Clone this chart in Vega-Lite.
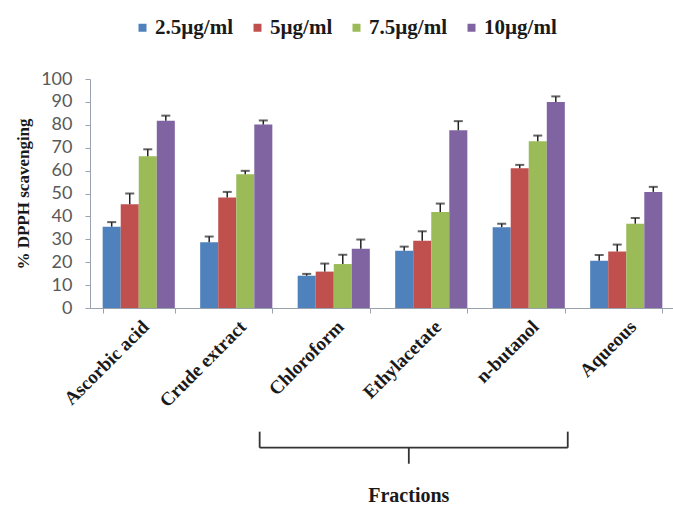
{
  "$schema": "https://vega.github.io/schema/vega-lite/v6.json",
  "width": 585,
  "height": 229,
  "padding": {"left": 14, "top": 17, "right": 0, "bottom": 5},
  "background": "white",
  "config": {"view": {"stroke": null}, "font": "Liberation Serif", "axisY": {"labelOverlap": false}},
  "datasets": {
    "bars": [
      {"cat": "Ascorbic acid", "conc": "2.5µg/ml", "value": 35.5, "upper": 37.5},
      {"cat": "Ascorbic acid", "conc": "5µg/ml", "value": 45.3, "upper": 50},
      {"cat": "Ascorbic acid", "conc": "7.5µg/ml", "value": 66.3, "upper": 69.3},
      {"cat": "Ascorbic acid", "conc": "10µg/ml", "value": 81.8, "upper": 84},
      {"cat": "Crude extract", "conc": "2.5µg/ml", "value": 28.7, "upper": 31.2},
      {"cat": "Crude extract", "conc": "5µg/ml", "value": 48.3, "upper": 50.7},
      {"cat": "Crude extract", "conc": "7.5µg/ml", "value": 58.4, "upper": 59.9},
      {"cat": "Crude extract", "conc": "10µg/ml", "value": 80.1, "upper": 81.9},
      {"cat": "Chloroform", "conc": "2.5µg/ml", "value": 14.1, "upper": 14.9},
      {"cat": "Chloroform", "conc": "5µg/ml", "value": 15.9, "upper": 19.4},
      {"cat": "Chloroform", "conc": "7.5µg/ml", "value": 19.2, "upper": 23.2},
      {"cat": "Chloroform", "conc": "10µg/ml", "value": 25.9, "upper": 29.9},
      {"cat": "Ethylacetate", "conc": "2.5µg/ml", "value": 25.0, "upper": 26.8},
      {"cat": "Ethylacetate", "conc": "5µg/ml", "value": 29.4, "upper": 33.5},
      {"cat": "Ethylacetate", "conc": "7.5µg/ml", "value": 41.9, "upper": 45.6},
      {"cat": "Ethylacetate", "conc": "10µg/ml", "value": 77.6, "upper": 81.6},
      {"cat": "n-butanol", "conc": "2.5µg/ml", "value": 35.3, "upper": 36.8},
      {"cat": "n-butanol", "conc": "5µg/ml", "value": 61.0, "upper": 62.5},
      {"cat": "n-butanol", "conc": "7.5µg/ml", "value": 72.8, "upper": 75.3},
      {"cat": "n-butanol", "conc": "10µg/ml", "value": 90.0, "upper": 92.4},
      {"cat": "Aqueous", "conc": "2.5µg/ml", "value": 20.6, "upper": 23.1},
      {"cat": "Aqueous", "conc": "5µg/ml", "value": 24.7, "upper": 27.7},
      {"cat": "Aqueous", "conc": "7.5µg/ml", "value": 36.8, "upper": 39.3},
      {"cat": "Aqueous", "conc": "10µg/ml", "value": 50.7, "upper": 52.9}
    ],
    "bracket": [
      {"x": 1.74, "x2": 4.9, "y": -61, "y2": -61},
      {"x": 1.74, "x2": 1.74, "y": -54, "y2": -61},
      {"x": 4.9, "x2": 4.9, "y": -54, "y2": -61},
      {"x": 3.27, "x2": 3.27, "y": -61, "y2": -68}
    ],
    "label": [{"x": 3.27, "y": -82, "text": "Fractions"}]
  },
  "layer": [
    {
      "layer": [
        {
          "data": {"name": "bars"},
          "mark": {"type": "bar"},
          "encoding": {
            "x": {
              "field": "cat", "type": "nominal",
              "sort": ["Ascorbic acid", "Crude extract", "Chloroform", "Ethylacetate", "n-butanol", "Aqueous"],
              "scale": {"paddingInner": 0.26, "paddingOuter": 0.13},
              "axis": {
                "title": null, "labelAngle": -45, "labelFont": "Liberation Serif", "labelFontWeight": "bold",
                "labelFontSize": 19, "labelColor": "#1a1a1a", "tickBand": "extent", "tickSize": 5,
                "tickColor": "#9aa3ad", "domainColor": "#9aa3ad", "labelPadding": 4
              }
            },
            "xOffset": {
              "field": "conc", "type": "nominal",
              "sort": ["2.5µg/ml", "5µg/ml", "7.5µg/ml", "10µg/ml"],
              "scale": {"paddingInner": 0, "paddingOuter": 0}
            },
            "y": {
              "field": "value", "type": "quantitative",
              "scale": {"domain": [0, 100], "nice": false},
              "axis": {
                "title": "% DPPH scavenging", "titleFont": "Liberation Serif", "titleFontWeight": "bold",
                "titleFontSize": 17, "titleColor": "#1a1a1a", "titlePadding": 8,
                "values": [0, 10, 20, 30, 40, 50, 60, 70, 80, 90, 100], "labelOverlap": false, "tickCount": 11,
                "labelFont": "Lato", "labelFontSize": 18, "labelColor": "#595959",
                "grid": false, "tickSize": 5, "tickColor": "#9aa3ad", "domainColor": "#9aa3ad", "labelPadding": 13
              }
            },
            "color": {
              "field": "conc", "type": "nominal",
              "sort": ["2.5µg/ml", "5µg/ml", "7.5µg/ml", "10µg/ml"],
              "scale": {"range": ["#4f81bd", "#c0504d", "#9bbb59", "#8064a2"]},
              "legend": {
                "title": null, "orient": "none", "direction": "horizontal",
                "legendX": 42, "legendY": -62,
                "symbolType": "square", "symbolSize": 64, "symbolStrokeWidth": 0,
                "labelFont": "Liberation Serif", "labelFontWeight": "bold", "labelFontSize": 21,
                "labelColor": "#1a1a1a", "labelOffset": 2, "columnPadding": 13
              }
            }
          }
        },
        {
          "data": {"name": "bars"},
          "mark": {"type": "rule", "color": "#222222", "strokeWidth": 1.5},
          "encoding": {
            "x": {"field": "cat", "type": "nominal", "sort": ["Ascorbic acid", "Crude extract", "Chloroform", "Ethylacetate", "n-butanol", "Aqueous"]},
            "xOffset": {"field": "conc", "type": "nominal", "sort": ["2.5µg/ml", "5µg/ml", "7.5µg/ml", "10µg/ml"]},
            "y": {"field": "value", "type": "quantitative"},
            "y2": {"field": "upper"}
          }
        },
        {
          "data": {"name": "bars"},
          "mark": {"type": "tick", "color": "#222222", "thickness": 2, "size": 9},
          "encoding": {
            "x": {"field": "cat", "type": "nominal", "sort": ["Ascorbic acid", "Crude extract", "Chloroform", "Ethylacetate", "n-butanol", "Aqueous"]},
            "xOffset": {"field": "conc", "type": "nominal", "sort": ["2.5µg/ml", "5µg/ml", "7.5µg/ml", "10µg/ml"]},
            "y": {"field": "upper", "type": "quantitative"}
          }
        }
      ]
    },
    {
      "layer": [
        {
          "data": {"name": "bracket"},
          "mark": {"type": "rule", "color": "#333333", "strokeWidth": 1.8, "clip": false},
          "encoding": {
            "x": {"field": "x", "type": "quantitative", "scale": {"domain": [0, 6], "nice": false}, "axis": null},
            "x2": {"field": "x2"},
            "y": {"field": "y", "type": "quantitative", "scale": {"domain": [0, 100], "nice": false}, "axis": null},
            "y2": {"field": "y2"}
          }
        },
        {
          "data": {"name": "label"},
          "mark": {"type": "text", "font": "Liberation Serif", "fontWeight": "bold", "fontSize": 20, "color": "#1a1a1a", "clip": false},
          "encoding": {
            "x": {"field": "x", "type": "quantitative", "scale": {"domain": [0, 6], "nice": false}, "axis": null},
            "y": {"field": "y", "type": "quantitative", "scale": {"domain": [0, 100], "nice": false}, "axis": null},
            "text": {"field": "text"}
          }
        }
      ]
    }
  ],
  "resolve": {"scale": {"x": "independent", "y": "independent", "xOffset": "independent"}}
}
